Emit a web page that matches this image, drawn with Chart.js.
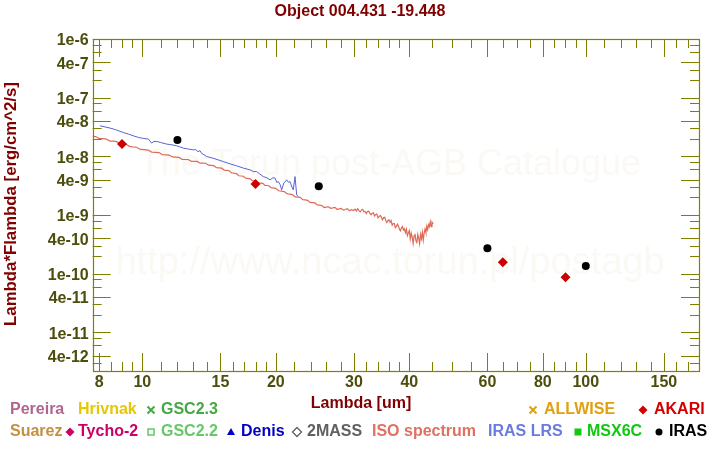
<!DOCTYPE html>
<html><head><meta charset="utf-8">
<script src="https://cdn.jsdelivr.net/npm/chart.js@4.4.1/dist/chart.umd.min.js"></script>
<style>html,body{margin:0;padding:0;background:#fff;overflow:hidden}</style>
</head><body>
<canvas id="c" width="720" height="450"></canvas>
<script>
// ---- data ----
const isoLambda = [
 7.73,7.85,8.0,8.15,8.3,8.45,8.6,8.75,8.9,9.05,
 9.2,9.35,9.5,9.7,9.9,10.1,10.3,10.5,10.7,10.9,
 11.1,11.3,11.5,11.7,11.9,12.1,12.3,12.5,12.7,12.9,
 13.1,13.3,13.5,13.7,13.9,14.1,14.3,14.5,14.7,14.9,
 15.1,15.3,15.5,15.7,15.9,16.1,16.3,16.5,16.7,16.9,
 17.1,17.3,17.5,17.7,17.9,18.1,18.3,18.5,18.7,18.9,
 19.1,19.3,19.5,19.7,20.0,20.3,20.6,20.9,21.2,21.5,
 21.8,22.1,22.4,22.7,23.0,23.3,23.6,23.9,24.2,24.5,
 24.8,25.1,25.4,25.7,26.0,26.3,26.6,26.9,27.2,27.5,
 27.8,28.1,28.4,28.7,29.0,29.3,29.6,29.9,30.2,30.4,
 30.6,30.8,31.0,31.2,31.4,31.6,31.8,32.0,32.2,32.4,
 32.6,32.8,33.0,33.2,33.4,33.6,33.8,34.0,34.2,34.4,
 34.6,34.8,35.0,35.2,35.4,35.6,35.8,36.0,36.2,36.4,
 36.6,36.8,37.0,37.2,37.4,37.6,37.8,38.0,38.2,38.4,
 38.6,38.8,39.0,39.2,39.4,39.6,39.8,40.0,40.2,40.4,
 40.6,40.8,41.0,41.2,41.4,41.6,41.8,42.0,42.2,42.4,
 42.6,42.8,43.0,43.2,43.4,43.6,43.8,44.0,44.2,44.4,
 44.6,44.8,45.0,45.3
];
const isoFlux = [
 2.18e-8,2.17e-8,2.01e-8,2.00e-8,1.97e-8,1.82e-8,1.81e-8,1.78e-8,1.66e-8,1.64e-8,
 1.60e-8,1.48e-8,1.45e-8,1.43e-8,1.31e-8,1.30e-8,1.28e-8,1.18e-8,1.17e-8,1.16e-8,
 1.07e-8,1.06e-8,1.05e-8,9.75e-9,9.68e-9,9.59e-9,8.85e-9,8.83e-9,8.81e-9,8.22e-9,
 8.22e-9,8.18e-9,7.64e-9,7.67e-9,7.62e-9,7.06e-9,7.00e-9,6.93e-9,6.38e-9,6.37e-9,
 6.28e-9,5.83e-9,5.75e-9,5.68e-9,5.22e-9,5.15e-9,5.08e-9,4.66e-9,4.62e-9,4.58e-9,
 4.24e-9,4.20e-9,4.14e-9,3.84e-9,3.82e-9,3.79e-9,3.51e-9,3.48e-9,3.45e-9,3.18e-9,
 3.18e-9,3.15e-9,2.92e-9,2.90e-9,2.84e-9,2.59e-9,2.56e-9,2.51e-9,2.31e-9,2.26e-9,
 2.23e-9,2.04e-9,2.02e-9,2.00e-9,1.83e-9,1.81e-9,1.78e-9,1.64e-9,1.63e-9,1.61e-9,
 1.49e-9,1.47e-9,1.45e-9,1.34e-9,1.36e-9,1.38e-9,1.30e-9,1.32e-9,1.35e-9,1.24e-9,
 1.27e-9,1.30e-9,1.21e-9,1.24e-9,1.28e-9,1.18e-9,1.23e-9,1.19e-9,1.26e-9,1.17e-9,
 1.28e-9,1.19e-9,1.13e-9,1.21e-9,1.25e-9,1.13e-9,1.15e-9,1.06e-9,1.15e-9,1.16e-9,
 1.06e-9,1.01e-9,1.07e-9,1.09e-9,9.62e-10,1.02e-9,1.04e-9,8.95e-10,9.40e-10,9.84e-10,
 9.20e-10,8.30e-10,9.02e-10,9.12e-10,8.05e-10,7.43e-10,8.05e-10,8.24e-10,7.50e-10,8.04e-10,
 6.68e-10,7.16e-10,7.16e-10,6.08e-10,6.37e-10,7.00e-10,6.47e-10,5.73e-10,5.36e-10,6.04e-10,
 6.34e-10,5.55e-10,5.82e-10,4.98e-10,5.73e-10,4.45e-10,4.97e-10,5.42e-10,3.90e-10,4.89e-10,
 4.24e-10,3.27e-10,4.39e-10,4.79e-10,3.63e-10,3.39e-10,4.68e-10,4.03e-10,3.24e-10,4.68e-10,
 3.94e-10,5.07e-10,3.72e-10,4.90e-10,5.75e-10,5.01e-10,6.46e-10,5.62e-10,6.84e-10,6.31e-10,
 7.67e-10,6.31e-10,7.59e-10,7.08e-10
];
const lrsLambda = [8.03,8.2,8.46,8.7,9.06,9.3,9.54,9.8,10.05,10.32,10.5,10.62,10.78,11.0,11.34,11.6,11.95,12.15,12.37,12.7,13.03,13.2,13.35,13.49,13.6,13.97,14.5,15.22,15.8,16.32,16.9,17.49,17.8,18.1,18.4,18.74,19.1,19.41,19.7,19.92,20.1,20.26,20.45,20.62,20.85,21.16,21.35,21.53,21.75,21.9,22.1,22.29,22.47];
const lrsFlux = [3.31e-8,3.2e-8,3.03e-8,2.85e-8,2.55e-8,2.4e-8,2.24e-8,2.1e-8,2.02e-8,1.97e-8,1.68e-8,1.80e-8,1.79e-8,1.72e-8,1.62e-8,1.58e-8,1.51e-8,1.45e-8,1.38e-8,1.33e-8,1.29e-8,1.30e-8,1.20e-8,1.25e-8,1.13e-8,9.93e-9,9.2e-9,8.15e-9,7.4e-9,6.89e-9,6.3e-9,5.89e-9,5.5e-9,5.51e-9,5.0e-9,4.52e-9,4.3e-9,3.97e-9,4.3e-9,4.25e-9,3.6e-9,3.72e-9,3.3e-9,2.68e-9,3.5e-9,3.97e-9,3.6e-9,3.72e-9,3.0e-9,2.68e-9,4.52e-9,2.20e-9,2.06e-9];
const irasLambda = [12, 25, 60, 100];
const irasFlux = [1.89e-8, 3.10e-9, 2.71e-10, 1.35e-10];
const akariLambda = [9, 18, 65, 90];
const akariFlux = [1.62e-8, 3.36e-9, 1.57e-10, 8.69e-11];

// ---- axes ----
const xMin = 7.73, xMax = 180;
const yMin = 2.19e-12, yMax = 1e-6;
const xTickValues = [8,8.5,9,9.5,10,11,12,13,14,15,16,17,18,19,20,22,24,26,28,30,32,34,36,38,40,45,50,55,60,65,70,75,80,85,90,95,100,110,120,130,140,150,160,170];
const xTickLabels = [8,10,15,20,30,40,60,80,100,150];
const yTickMantissas = [1,2,3,4,6,8];
const yLabelMantissas = [1,4];
const yExponents = [-12,-11,-10,-9,-8,-7,-6];

const titleText = 'Object 004.431 -19.448';
const xTitleText = 'Lambda [um]';
const yTitleText = 'Lambda*Flambda [erg/cm^2/s]';
const watermarkLines = ['The Torun post-AGB Catalogue', 'http://www.ncac.torun.pl/postagb'];

const legendRow1 = [
  {text:'Pereira', color:'#b2668c'},
  {text:'Hrivnak', color:'#e6c800'},
  {text:'GSC2.3', color:'#44a844', sym:'cross'},
  {text:'ALLWISE', color:'#e0a010', sym:'cross'},
  {text:'AKARI', color:'#d40000', sym:'diamond'}
];
const legendRow2 = [
  {text:'Suarez', color:'#c49040'},
  {text:'Tycho-2', color:'#cc0066', sym:'diamond'},
  {text:'GSC2.2', color:'#66c866', sym:'squareOpen'},
  {text:'Denis', color:'#0000c8', sym:'triangle'},
  {text:'2MASS', color:'#606060', sym:'diamondOpen'},
  {text:'ISO spectrum', color:'#e07060'},
  {text:'IRAS LRS', color:'#6a7ae0'},
  {text:'MSX6C', color:'#10c810', sym:'square'},
  {text:'IRAS', color:'#000000', sym:'circle'}
];
// layout of the legend (centre of symbol / left edge of text)
const legendPos1 = [[null,10],[null,78],[151,161],[533,544],[643,654]];
const legendPos2 = [[null,10],[70,78],[151,161],[231,241],[297,307],[null,372],[null,488],[578,587],[659,669]];

const FONT = "'Liberation Sans', Arial, Helvetica, sans-serif";
const tickColor = '#4d4d0d';
const axisColor = '#808000';
const darkRed = '#800000';

const yTicksBuilt = [];
yExponents.forEach(e => yTickMantissas.forEach(m => {
  const v = parseFloat(m + 'e' + e);
  if (v >= yMin * 0.999 && v <= yMax * 1.001) {
    yTicksBuilt.push({value: v, lbl: yLabelMantissas.includes(m) ? (m + 'e' + e) : ''});
  }
}));

const toXY = (xs, ys) => xs.map((x, i) => ({x: x, y: ys[i]}));

function drawSym(ctx, sym, cx, cy, color) {
  ctx.save();
  ctx.fillStyle = color; ctx.strokeStyle = color;
  ctx.beginPath();
  if (sym === 'cross') {
    ctx.lineWidth = 2; const s = 3.5;
    ctx.moveTo(cx - s, cy - s); ctx.lineTo(cx + s, cy + s);
    ctx.moveTo(cx + s, cy - s); ctx.lineTo(cx - s, cy + s);
    ctx.stroke();
  } else if (sym === 'diamond' || sym === 'diamondOpen') {
    const s = 4.5;
    ctx.moveTo(cx, cy - s); ctx.lineTo(cx + s, cy); ctx.lineTo(cx, cy + s); ctx.lineTo(cx - s, cy); ctx.closePath();
    if (sym === 'diamond') ctx.fill(); else { ctx.lineWidth = 1.3; ctx.stroke(); }
  } else if (sym === 'squareOpen') {
    ctx.lineWidth = 1.5; ctx.strokeRect(cx - 3, cy - 3, 6, 6);
  } else if (sym === 'square') {
    ctx.fillRect(cx - 3.5, cy - 3.5, 7, 7);
  } else if (sym === 'triangle') {
    ctx.moveTo(cx, cy - 4); ctx.lineTo(cx + 4, cy + 3); ctx.lineTo(cx - 4, cy + 3); ctx.closePath(); ctx.fill();
  } else if (sym === 'circle') {
    ctx.arc(cx, cy, 3.5, 0, Math.PI * 2); ctx.fill();
  }
  ctx.restore();
}

const watermark = {
  id: 'watermark',
  beforeDatasetsDraw(chart) {
    const {ctx} = chart;
    ctx.save();
    ctx.fillStyle = '#fbf9f4';
    ctx.textAlign = 'center'; ctx.textBaseline = 'alphabetic';
    ctx.font = '36px ' + FONT;
    ctx.fillText(watermarkLines[0], 390, 175);
    ctx.font = '38px ' + FONT;
    ctx.fillText(watermarkLines[1], 390, 274);
    ctx.restore();
  }
};

const frame = {
  id: 'frame',
  afterDatasetsDraw(chart) {
    const {ctx, chartArea: {left, right, top, bottom}, scales: {x, y}} = chart;
    ctx.save();
    ctx.strokeStyle = axisColor; ctx.lineWidth = 1;
    ctx.beginPath();
    x.ticks.forEach(t => {
      const px = Math.round(x.getPixelForValue(t.value)) + 0.5;
      const L = xTickLabels.includes(t.value) ? 18 : 9;
      ctx.moveTo(px, bottom); ctx.lineTo(px, bottom - L);
      ctx.moveTo(px, top); ctx.lineTo(px, top + L);
    });
    y.ticks.forEach(t => {
      const py = Math.round(y.getPixelForValue(t.value)) + 0.5;
      const L = t.lbl ? 18 : 9;
      ctx.moveTo(left, py); ctx.lineTo(left + L, py);
      ctx.moveTo(right, py); ctx.lineTo(right - L, py);
    });
    ctx.stroke();
    ctx.lineWidth = 1.2;
    ctx.strokeRect(Math.round(left) + 0.5, Math.round(top) + 0.5, Math.round(right - left), Math.round(bottom - top));
    ctx.restore();
  }
};

const texts = {
  id: 'texts',
  afterDraw(chart) {
    const {ctx, chartArea: {top, bottom}} = chart;
    ctx.save();
    ctx.font = 'bold 16px ' + FONT;
    ctx.fillStyle = darkRed;
    ctx.textAlign = 'center'; ctx.textBaseline = 'middle';
    ctx.fillText(titleText, 360, 12);
    ctx.fillText(xTitleText, 361, 404);
    ctx.save();
    ctx.font = 'bold 16.8px ' + FONT;
    ctx.translate(11, (top + bottom) / 2 - 1);
    ctx.rotate(-Math.PI / 2);
    ctx.fillText(yTitleText, 0, 0);
    ctx.restore();
    ctx.textAlign = 'left';
    const rows = [[legendRow1, legendPos1, 410], [legendRow2, legendPos2, 432]];
    rows.forEach(([items, pos, yy]) => {
      items.forEach((it, i) => {
        const [sx, tx] = pos[i];
        if (it.sym) drawSym(ctx, it.sym, sx, yy, it.color);
        ctx.fillStyle = it.color;
        ctx.fillText(it.text, tx, yy);
      });
    });
    ctx.restore();
  }
};

Chart.defaults.font.family = FONT;

new Chart(document.getElementById('c'), {
  type: 'scatter',
  data: {
    datasets: [
      {label: 'ISO spectrum', data: toXY(isoLambda, isoFlux), showLine: true, borderColor: '#e06a58', backgroundColor: '#e06a58', borderWidth: 1.2, pointRadius: 0, fill: false, order: 4},
      {label: 'IRAS LRS', data: toXY(lrsLambda, lrsFlux), showLine: true, borderColor: '#5563d6', backgroundColor: '#5563d6', borderWidth: 1, pointRadius: 0, fill: false, order: 3},
      {label: 'AKARI', data: toXY(akariLambda, akariFlux), pointStyle: 'rectRot', pointRadius: 5, backgroundColor: '#cc0000', borderColor: '#cc0000', borderWidth: 0, order: 2},
      {label: 'IRAS', data: toXY(irasLambda, irasFlux), pointStyle: 'circle', pointRadius: 4, backgroundColor: '#000000', borderColor: '#000000', borderWidth: 0, order: 1}
    ]
  },
  options: {
    responsive: false, animation: false, devicePixelRatio: 1,
    layout: {padding: {left: 0, top: 39, right: 21, bottom: 0}},
    plugins: {legend: {display: false}, tooltip: {enabled: false}, title: {display: false}},
    scales: {
      x: {
        type: 'logarithmic', min: xMin, max: xMax,
        grid: {display: false, drawTicks: false}, border: {display: false},
        ticks: {autoSkip: false, maxRotation: 0, minRotation: 0, padding: 2, color: tickColor,
          font: {size: 16, weight: 'bold'},
          callback: (v) => xTickLabels.includes(v) ? String(v) : ''},
        afterBuildTicks: (axis) => { axis.ticks = xTickValues.map(v => ({value: v})); },
        afterFit: (s) => { s.height = 79; }
      },
      y: {
        type: 'logarithmic', min: yMin, max: yMax,
        grid: {display: false, drawTicks: false}, border: {display: false},
        ticks: {autoSkip: false, padding: 4, labelOffset: 2, color: tickColor,
          font: {size: 16, weight: 'bold'},
          callback: (v, i, ticks) => (ticks[i] && ticks[i].lbl) ? ticks[i].lbl : ''},
        afterBuildTicks: (axis) => { axis.ticks = yTicksBuilt.map(t => ({value: t.value, lbl: t.lbl})); },
        afterFit: (s) => { s.width = 92.7; }
      }
    }
  },
  plugins: [watermark, frame, texts]
});
</script>
</body></html>
